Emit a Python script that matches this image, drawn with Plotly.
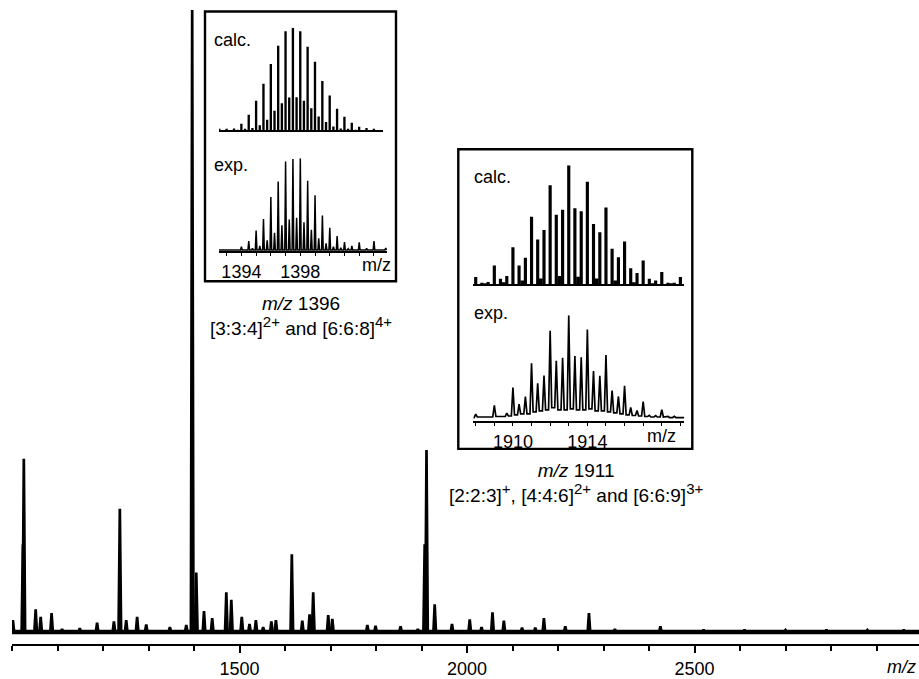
import plotly.graph_objects as go

# ---------------- DATA ----------------
# Main spectrum: peak positions (m/z) and relative heights (main axis units)
main_mz = [1002, 1024, 1026, 1052, 1063, 1087, 1110, 1149, 1187, 1224, 1237, 1251, 1275,
           1295, 1347, 1383, 1396, 1405, 1422, 1440, 1471, 1482, 1505, 1522, 1536, 1552,
           1570, 1580, 1615, 1638, 1654, 1662, 1695, 1704, 1781, 1799, 1854, 1892, 1907,
           1911, 1929, 1967, 2006, 2032, 2056, 2081, 2121, 2150, 2169, 2216, 2268, 2325,
           2425, 2520, 2610, 2700, 2790, 2880, 2960]
main_int = [1.9, 13.9, 27.4, 3.6, 2.4, 3.0, 0.5, 0.6, 1.5, 1.7, 19.5, 1.9, 2.4,
            1.2, 0.8, 1.1, 98.4, 9.4, 3.3, 2.2, 6.3, 5.1, 2.4, 1.3, 1.9, 0.8,
            1.7, 1.9, 12.3, 1.8, 2.8, 6.3, 2.7, 2.1, 1.1, 1.0, 0.9, 0.5, 13.9,
            28.8, 4.4, 1.3, 2.0, 0.8, 3.1, 1.8, 0.7, 0.7, 2.2, 0.9, 3.0, 0.5,
            0.9, 0.4, 0.4, 0.3, 0.4, 0.3, 0.4]
main_ticks = [1500, 2000, 2500]

# Inset 1 (m/z 1396) calculated pattern
calc1_major_mz = [1392.5, 1393.0, 1393.5, 1394.0, 1394.5, 1395.0, 1395.5, 1396.0, 1396.5, 1397.0, 1397.5,
                  1398.0, 1398.5, 1399.0, 1399.5, 1400.0, 1400.5, 1401.0, 1401.5, 1402.0, 1402.5, 1403.0]
calc1_major_int = [0.6, 1.0, 1.9, 6.5, 15.2, 28.8, 45.6, 64.7, 82.5, 96.8, 100,
                   96.8, 81.6, 67.0, 48.2, 34.0, 21.0, 13.3, 7.4, 3.6, 2.3, 1.3]
calc1_minor_mz = [1393.75, 1394.25, 1394.75, 1395.25, 1395.75, 1396.25, 1396.75, 1397.25, 1397.75,
                  1398.25, 1398.75, 1399.25, 1399.75, 1400.25, 1400.75, 1401.25, 1401.75]
calc1_minor_int = [0.5, 1.0, 2.3, 4.9, 10.4, 19.1, 26.5, 32.0, 32.4,
                   28.8, 21.7, 13.6, 8.1, 3.9, 1.9, 0.6, 0.3]

# Inset 1 experimental pattern
exp1_mz = [1393.5, 1394.0, 1394.5, 1394.75, 1395.0, 1395.25, 1395.5, 1395.75, 1396.0, 1396.25,
           1396.5, 1396.75, 1397.0, 1397.25, 1397.5, 1397.75, 1398.0, 1398.25, 1398.5, 1398.75,
           1399.0, 1399.25, 1399.5, 1399.75, 1400.0, 1400.25, 1400.5, 1400.75, 1401.0, 1401.25,
           1401.5, 1402.0, 1402.5, 1403.0, 1403.8]
exp1_int = [0.7, 3.6, 9.7, 1.8, 21.3, 4.3, 33.6, 10.5, 57.8, 18.8,
            74.7, 27.0, 96.4, 33.2, 99.3, 35.0, 100, 30.3, 75.5, 22.0,
            59.6, 12.6, 37.5, 7.2, 24.2, 3.6, 15.2, 2.5, 8.7, 1.4,
            4.3, 8.3, 1.8, 9.7, 2.0]
inset1_ticks = [1394, 1398]

# Inset 2 (m/z 1911) calculated pattern (peaks every 1/3 m/z from 1908)
calc2_mz = [1908.0, 1908.33, 1908.67, 1909.0, 1909.33, 1909.67, 1910.0, 1910.33, 1910.67,
            1911.0, 1911.33, 1911.67, 1912.0, 1912.33, 1912.67, 1913.0, 1913.33, 1913.67,
            1914.0, 1914.33, 1914.67, 1915.0, 1915.33, 1915.67, 1916.0, 1916.33, 1916.67,
            1917.0, 1917.33, 1917.67, 1918.0, 1918.33, 1918.67, 1919.0]
calc2_int = [6.1, 1.4, 1.9, 15.9, 4.7, 7.0, 31.2, 15.9, 22.3,
             56.8, 37.6, 45.7, 83.3, 58.5, 62.7, 100, 63.8, 61.3,
             86.1, 50.7, 43.7, 64.6, 29.8, 22.8, 35.9, 13.6, 9.5,
             20.1, 4.7, 3.3, 10.3, 1.4, 1.4, 6.1]
calc2_half_mz = [1908.5, 1909.5, 1910.5, 1911.5, 1912.5, 1913.5, 1914.5, 1915.5, 1916.5, 1917.5, 1918.5]
calc2_half_int = [0.8, 1.7, 3.3, 5.0, 7.0, 6.4, 5.0, 3.3, 1.7, 0.8, 0.6]

# Inset 2 experimental pattern
exp2_mz = [1908.0, 1909.0, 1909.67, 1910.0, 1910.33, 1910.67, 1911.0, 1911.33, 1911.67, 1912.0,
           1912.33, 1912.67, 1913.0, 1913.33, 1913.67, 1914.0, 1914.33, 1914.67, 1915.0, 1915.33,
           1915.67, 1916.0, 1916.33, 1916.67, 1917.0, 1917.33, 1917.67, 1918.0, 1918.33, 1918.67]
exp2_int = [3.9, 12.3, 4.8, 29.7, 13.5, 21.0, 53.2, 33.9, 41.3, 84.8,
            55.8, 58.7, 100, 60.3, 59.0, 86.1, 45.8, 41.0, 61.3, 26.8,
            21.0, 31.3, 10.3, 7.4, 16.1, 2.6, 2.3, 8.1, 1.6, 1.6]
exp2_valley = [0.5, 1.0, 1.5, 2.0, 3.0, 4.0, 4.0, 6.0, 7.0, 8.0, 10.0, 8.0, 8.0, 9.0, 8.0, 8.0,
               9.0, 7.0, 7.0, 6.0, 5.0, 4.0, 3.0, 2.5, 2.0, 1.5, 1.0, 1.0, 1.0, 0.5, 0.5]
inset2_ticks = [1910, 1914]

# ---------------- LAYOUT GEOMETRY ----------------
W, H = 919, 679
ML, MR, MT, MB = 12, 0, 0, 32
PW, PH = W - ML - MR, H - MT - MB
FONT = "Liberation Sans, Arial, sans-serif"


def fx(px):
    return (px - ML) / PW


def fy(py):
    return (PH + MT - py) / PH


def spikes(mz, inten, hw):
    xs, ys = [], []
    for m, h in zip(mz, inten):
        xs += [m - hw, m, m + hw, None]
        ys += [0, h, 0, None]
    return xs, ys


def profile(mz, inten, valley, hw, x0, x1):
    xs, ys = [x0], [valley[0]]
    for j, (m, h) in enumerate(zip(mz, inten)):
        xs += [m - hw, m, m + hw]
        ys += [valley[j], h, valley[j + 1]]
    xs.append(x1)
    ys.append(valley[-1])
    return xs, ys


main_x0, main_x1 = 1000, 1000 + PW / 0.455
in1_x = [1392.48, 1403.6]
in2_x = [1907.87, 1919.21]

fig = go.Figure()

# main spectrum
fig.add_trace(go.Scatter(x=[main_x0, main_x1], y=[0, 0], mode="lines",
                         line=dict(color="black", width=4.5), hoverinfo="skip"))
mx, my = spikes(main_mz, main_int, 2.8)
fig.add_trace(go.Scatter(x=mx, y=my, mode="lines", line=dict(color="black", width=2.7),
                         hoverinfo="skip"))

# inset 1 calc
fig.add_trace(go.Bar(x=calc1_major_mz + calc1_minor_mz, y=calc1_major_int + calc1_minor_int,
                     width=0.16, marker=dict(color="black", line=dict(width=0)),
                     xaxis="x2", yaxis="y2"))
# inset 1 exp
order = sorted(range(len(exp1_mz)), key=lambda i: exp1_mz[i])
e1m = [exp1_mz[i] for i in order]
e1i = [exp1_int[i] for i in order]
e1x, e1y = profile(e1m, e1i, [0.0] * (len(e1m) + 1), 0.055, in1_x[0], in1_x[1] + 0.25)
fig.add_trace(go.Scatter(x=e1x, y=e1y, mode="lines", line=dict(color="black", width=1.5),
                         xaxis="x3", yaxis="y3", hoverinfo="skip", cliponaxis=False))

# inset 2 calc
fig.add_trace(go.Bar(x=calc2_mz, y=calc2_int, width=0.17,
                     marker=dict(color="black", line=dict(width=0)), xaxis="x4", yaxis="y4"))
fig.add_trace(go.Bar(x=calc2_half_mz, y=calc2_half_int, width=0.2,
                     marker=dict(color="black", line=dict(width=0)), xaxis="x4", yaxis="y4"))
# inset 2 exp
e2x, e2y = profile(exp2_mz, exp2_int, exp2_valley, 0.085, in2_x[0], in2_x[1])
fig.add_trace(go.Scatter(x=e2x, y=e2y, mode="lines", line=dict(color="black", width=1.7),
                         xaxis="x5", yaxis="y5", hoverinfo="skip"))

hidden_y = dict(visible=False, fixedrange=True)
inset_font = dict(family=FONT, size=18, color="black")

fig.update_layout(
    width=W, height=H,
    margin=dict(l=ML, r=MR, t=MT, b=MB),
    paper_bgcolor="white", plot_bgcolor="white",
    showlegend=False, barmode="overlay",
    font=dict(family=FONT, size=18, color="black"),
    xaxis=dict(range=[main_x0, main_x1], showgrid=False, zeroline=False,
               showline=True, linecolor="black", linewidth=2,
               tickmode="array", tickvals=main_ticks, ticks="outside", ticklen=7,
               tickwidth=1.5, tickcolor="black", tickfont=dict(family=FONT, size=18),
               minor=dict(dtick=100, tick0=1000, ticks="outside", ticklen=5,
                          tickwidth=1.5, tickcolor="black", showgrid=False)),
    yaxis=dict(range=[-12 / 6.35, 100], visible=False),
    # inset 1
    xaxis2=dict(domain=[fx(219), fx(382.7)], range=in1_x, anchor="y2", showgrid=False,
                zeroline=False, showline=True, linecolor="black", linewidth=1.6,
                showticklabels=False, ticks=""),
    yaxis2=dict(domain=[fy(131), fy(28)], range=[0, 100], anchor="x2", **hidden_y),
    xaxis3=dict(domain=[fx(219), fx(387)], range=[in1_x[0], in1_x[0] + (387 - 219) / 14.73],
                anchor="y3", showgrid=False,
                zeroline=False, showline=True, linecolor="black", linewidth=1.5,
                tickmode="array", tickvals=inset1_ticks, ticks="outside", ticklen=3,
                tickwidth=1, tickcolor="black", tickfont=inset_font,
                minor=dict(dtick=1, tick0=1393, ticks="outside", ticklen=3, tickwidth=1,
                           tickcolor="black", showgrid=False)),
    yaxis3=dict(domain=[fy(252.5), fy(159)], range=[-1.5, 100], anchor="x3", **hidden_y),
    # inset 2
    xaxis4=dict(domain=[fx(473.3), fx(684.3)], range=in2_x, anchor="y4", showgrid=False,
                zeroline=False, showline=True, linecolor="black", linewidth=1.6,
                showticklabels=False, ticks=""),
    yaxis4=dict(domain=[fy(285.7), fy(166)], range=[0, 100], anchor="x4", **hidden_y),
    xaxis5=dict(domain=[fx(473.3), fx(684.3)], range=in2_x, anchor="y5", showgrid=False,
                zeroline=False, showline=True, linecolor="black", linewidth=1.5,
                tickmode="array", tickvals=inset2_ticks, ticks="outside", ticklen=3,
                tickwidth=1, tickcolor="black", tickfont=inset_font,
                minor=dict(dtick=1, tick0=1908, ticks="outside", ticklen=3, tickwidth=1,
                           tickcolor="black", showgrid=False)),
    yaxis5=dict(domain=[fy(423.3), fy(316.7)], range=[-3.2, 100], anchor="x5", **hidden_y),
)

# inset boxes
for (x0, x1, y0, y1) in [(205, 396, 11.5, 282.5), (458.3, 692.3, 150, 451)]:
    fig.add_shape(type="rect", xref="paper", yref="paper",
                  x0=fx(x0), x1=fx(x1), y0=fy(y1), y1=fy(y0),
                  line=dict(color="black", width=2.4), fillcolor="rgba(0,0,0,0)")


def note(text, px, py, size=18, xanchor="left", yanchor="middle"):
    fig.add_annotation(text=text, xref="paper", yref="paper", x=fx(px), y=fy(py),
                       xanchor=xanchor, yanchor=yanchor, showarrow=False,
                       font=dict(family=FONT, size=size, color="black"))


def sup(s):
    return "<sup><span style='font-size:15px'>" + s + "</span></sup>"


note("calc.", 212, 40.3)
note("exp.", 212, 166)
note("m/z", 376.7, 266.7, xanchor="center")
note("calc.", 472, 178)
note("exp.", 472, 314)
note("m/z", 661.7, 438, xanchor="center")
note("<i>m/z</i> 1396<br>[3:3:4]" + sup("2+") + " and [6:6:8]" + sup("4+"),
     301, 317, size=19, xanchor="center")
note("<i>m/z</i> 1911<br>[2:2:3]" + sup("+") + ", [4:4:6]" + sup("2+") + " and [6:6:9]" + sup("3+"),
     576, 485, size=19, xanchor="center")
note("<i>m/z</i>", 901.5, 669.7, xanchor="center")

fig.write_html("out.html", config={"displayModeBar": False},
               post_script="document.body.style.margin='0';document.body.style.padding='0';")
